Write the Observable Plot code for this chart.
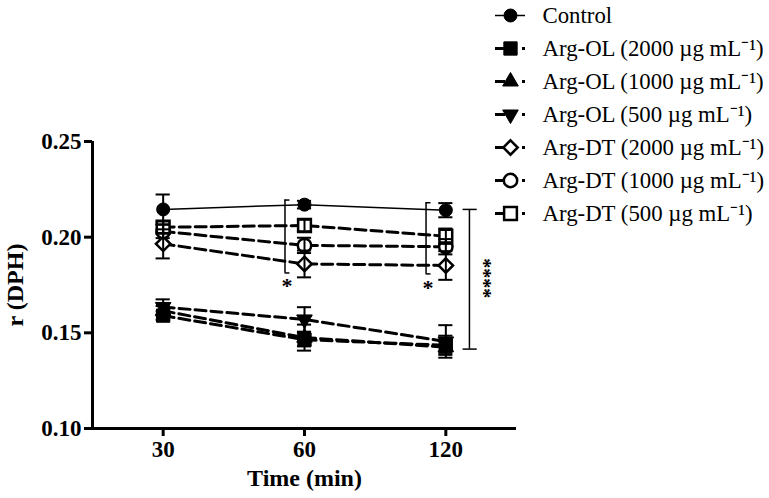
<!DOCTYPE html>
<html>
<head>
<meta charset="utf-8">
<script src="https://cdn.jsdelivr.net/npm/d3@7"></script>
<script src="https://cdn.jsdelivr.net/npm/@observablehq/plot@0.6"></script>
<style>
  html, body { margin: 0; padding: 0; background: #fff; }
  #wrap { position: relative; width: 769px; height: 498px; overflow: hidden; }
  #legend { position: absolute; left: 480px; top: 0; }
  svg text { -webkit-font-smoothing: antialiased; }
</style>
</head>
<body>
<div id="wrap"><div id="chart"></div><div id="legend"></div></div>
<script>
// ---- data ----
const times = ["30", "60", "120"];
const yTicks = [0.10, 0.15, 0.20, 0.25];
const seriesNames = [
  "Control",
  "Arg-OL (2000 µg mL⁻¹)",
  "Arg-OL (1000 µg mL⁻¹)",
  "Arg-OL (500 µg mL⁻¹)",
  "Arg-DT (2000 µg mL⁻¹)",
  "Arg-DT (1000 µg mL⁻¹)",
  "Arg-DT (500 µg mL⁻¹)"
];
const control   = [0.2145, 0.2170, 0.2141];
const controlErr= [0.0078, 0.0020, 0.0037];
const ol2000    = [0.1590, 0.1464, 0.1435];
const ol2000Err = [0.0022, 0.0035, 0.0050];
const ol1000    = [0.1615, 0.1475, 0.1425];
const ol1000Err = [0.0025, 0.0068, 0.0030];
const ol500     = [0.1635, 0.1570, 0.1455];
const ol500Err  = [0.0040, 0.0064, 0.0085];
const dt2000    = [0.1965, 0.1860, 0.1852];
const dt2000Err = [0.0076, 0.0070, 0.0075];
const dt1000    = [0.2030, 0.1957, 0.1950];
const dt1000Err = [0.0035, 0.0040, 0.0040];
const dt500     = [0.2052, 0.2061, 0.2005];
const dt500Err  = [0.0030, 0.0030, 0.0040];

// significance annotations (data units: x = time index, y = r)
const smallBrackets = [{x: 0.862, y1: 0.2194, y2: 0.1813}, {x: 1.860, y1: 0.2180, y2: 0.1808}];
const smallStars = [{x: 0.877, y: 0.1754, label: "*"}, {x: 1.873, y: 0.1744, label: "*"}];
const bigBracket = [{x: 2.167, y1: 0.2145, y2: 0.1415}];
const bigStars = [{x: 2.266, y: 0.1806, label: "****"}];

// ---- styles ----
const values = [control, ol2000, ol1000, ol500, dt2000, dt1000, dt500];
const errors = [controlErr, ol2000Err, ol1000Err, ol500Err, dt2000Err, dt1000Err, dt500Err];
const symbols = ["circle", "square", "triangle", "triangle", "diamond2", "circle", "square"];
const rotates = [0, 0, 0, 180, 0, 0, 0];
const fills = ["black", "black", "black", "black", "white", "white", "white"];
const radii = [6.5, 7.5, 5.8, 5.8, 6.5, 6.7, 7.2];

const rows = [];
seriesNames.forEach((s, k) => values[k].forEach((v, i) => rows.push({series: s, k, x: i, y: v, err: errors[k][i]})));

const font = "'Liberation Serif', 'Times New Roman', serif";
const capW = 0.05;

const dotMarks = seriesNames.map((s, k) => Plot.dot(rows.filter(r => r.k === k), {
  x: "x", y: "y", symbol: symbols[k], r: radii[k], rotate: rotates[k],
  fill: fills[k], stroke: "black", strokeWidth: fills[k] === "white" ? 2.5 : 1
}));

const chart = Plot.plot({
  width: 769, height: 498,
  marginLeft: 92, marginRight: 253, marginTop: 141, marginBottom: 70,
  style: {fontFamily: font, fontSize: "23px", fontWeight: "bold", background: "white", color: "black", overflow: "visible"},
  x: {domain: [-0.5, 2.5]},
  y: {domain: [0.10, 0.25]},
  marks: [
    Plot.axisX({ticks: [0, 1, 2], tickFormat: i => times[i], tickSize: 8, tickPadding: 4, strokeWidth: 3, label: null, fontWeight: "bold", fontSize: 23}),
    Plot.axisY({ticks: yTicks, tickFormat: d3.format(".2f"), tickSize: 8, tickPadding: 3, strokeWidth: 3, label: null, fontWeight: "bold", fontSize: 23}),
    Plot.ruleY([0.10], {strokeWidth: 3}),
    Plot.ruleX([-0.5], {strokeWidth: 3}),
    Plot.text(["r (DPH)"], {frameAnchor: "left", dx: -77, rotate: -90, fontSize: 24, fontWeight: "bold", textAnchor: "middle", fill: "black"}),
    Plot.text(["Time (min)"], {frameAnchor: "bottom", dy: 57, fontSize: 24, fontWeight: "bold", textAnchor: "middle", fill: "black"}),
    // lines
    Plot.line(rows.filter(r => r.k === 0), {x: "x", y: "y", stroke: "black", strokeWidth: 1.5}),
    Plot.line(rows.filter(r => r.k > 0), {x: "x", y: "y", z: "series", stroke: "black", strokeWidth: 3, strokeDasharray: "11,5"}),
    // markers
    ...dotMarks,
    // error bars
    Plot.ruleX(rows, {x: "x", y1: d => d.y - d.err, y2: d => d.y + d.err, strokeWidth: 2}),
    Plot.ruleY(rows, {y: d => d.y + d.err, x1: d => d.x - capW, x2: d => d.x + capW, strokeWidth: 2}),
    Plot.ruleY(rows, {y: d => d.y - d.err, x1: d => d.x - capW, x2: d => d.x + capW, strokeWidth: 2}),
    // significance brackets
    Plot.ruleX(smallBrackets, {x: "x", y1: "y1", y2: "y2", strokeWidth: 1.5}),
    Plot.ruleY(smallBrackets, {y: "y1", x1: "x", x2: d => d.x + 0.035, strokeWidth: 1.5}),
    Plot.ruleY(smallBrackets, {y: "y2", x1: "x", x2: d => d.x + 0.035, strokeWidth: 1.5}),
    Plot.text(smallStars, {x: "x", y: "y", text: "label", fontSize: 22, fontWeight: "bold", dy: 2, fill: "black"}),
    Plot.ruleX(bigBracket, {x: "x", y1: "y1", y2: "y2", strokeWidth: 1.5}),
    Plot.ruleY(bigBracket, {y: "y1", x1: d => d.x - 0.045, x2: d => d.x + 0.055, strokeWidth: 1.5}),
    Plot.ruleY(bigBracket, {y: "y2", x1: d => d.x - 0.045, x2: d => d.x + 0.055, strokeWidth: 1.5}),
    Plot.text(bigStars, {x: "x", y: "y", text: "label", rotate: 90, fontSize: 20, fontWeight: "bold", dy: 4, fill: "black"})
  ]
});
document.getElementById("chart").appendChild(chart);

// ---- legend (separate Plot overlay) ----
const legendRows = seriesNames.map((s, k) => ({series: s, k}));
const legendMarks = [
  Plot.tickY(legendRows.filter(r => r.k === 0), {y: "series", stroke: "black", strokeWidth: 1.5}),
  Plot.tickY(legendRows.filter(r => r.k > 0), {y: "series", stroke: "black", strokeWidth: 3, strokeDasharray: "10,17"}),
  ...seriesNames.map((s, k) => Plot.dot(legendRows.filter(r => r.k === k), {
    y: "series", frameAnchor: "left", dx: 15, symbol: symbols[k], r: radii[k], rotate: rotates[k],
    fill: fills[k], stroke: "black", strokeWidth: fills[k] === "white" ? 2.5 : 1
  })),
  Plot.text(legendRows, {y: "series", text: "series", frameAnchor: "left", dx: 47, textAnchor: "start", fontSize: 22.8, fontWeight: "normal", fill: "black"})
];
const legend = Plot.plot({
  width: 289, height: 240,
  marginLeft: 15, marginRight: 244, marginTop: 0, marginBottom: 0,
  style: {fontFamily: font, fontSize: "23px", background: "transparent", color: "black", overflow: "visible"},
  y: {type: "point", domain: seriesNames, range: [13, 215], padding: 0, axis: null},
  x: {axis: null},
  marks: legendMarks
});
document.getElementById("legend").appendChild(legend);
</script>
</body>
</html>
